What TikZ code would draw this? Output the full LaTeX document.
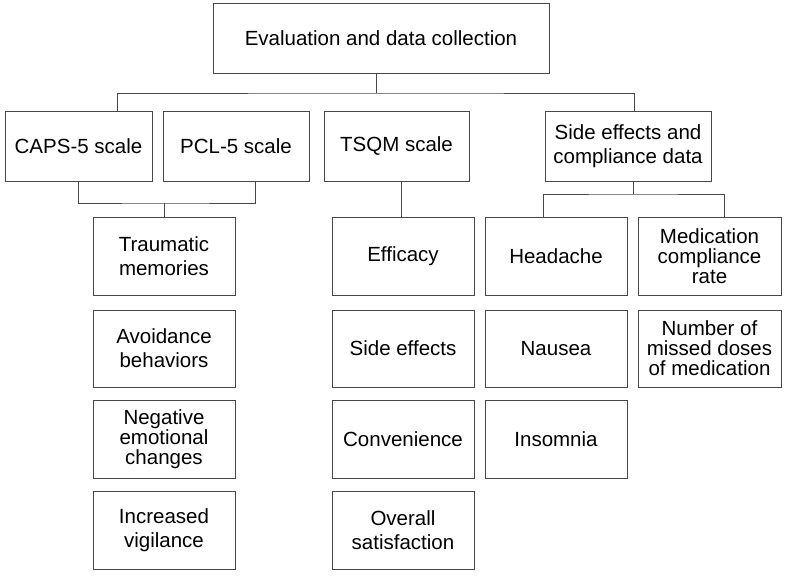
\documentclass[tikz,border=0pt]{standalone}
\usepackage{fontspec}
\setmainfont{Liberation Sans}
\begin{document}
\begin{tikzpicture}[x=1pt,y=-1pt,
  line width=1pt, draw=black!72,
  box/.style={draw=black!72, line width=1pt, rectangle, inner sep=0pt, align=center,
    minimum height=78pt, minimum width=142pt, text=black,
    font=\fontsize{20.5}{24}\selectfont},
  tight/.style={font=\fontsize{20.5}{20}\selectfont},
  lnk/.style={draw=black!72, line width=1pt}]
\useasboundingbox (0,0) rectangle (793,576);
% top
\node[box, minimum width=336pt, minimum height=70pt] (top) at (381,38) {Evaluation and data collection};
% level 2
\node[box, minimum width=147pt, minimum height=70pt] (caps) at (78.5,146) {CAPS-5 scale};
\node[box, minimum width=146pt, minimum height=70pt] (pcl) at (236,146) {PCL-5 scale};
\node[box, minimum width=145pt, minimum height=70pt] (tsqm) at (396.5,146) {TSQM scale};
\node[box, minimum width=166pt, minimum height=70pt] (side) at (628,146) {Side effects and\\compliance data};
% column 1
\node[box] (trau) at (164,256) {Traumatic\\memories};
\node[box, minimum height=77pt] (avoid) at (164,348.5) {Avoidance\\behaviors};
\node[box, tight] (neg) at (164,439) {Negative\\emotional\\changes};
\node[box] (incr) at (164,530) {Increased\\vigilance};
% column 2
\node[box] (eff) at (403,256) {Efficacy};
\node[box, minimum height=77pt] (sidef) at (403,348.5) {Side effects};
\node[box] (conv) at (403,439) {Convenience};
\node[box] (over) at (403,530) {Overall\\satisfaction};
% column 3
\node[box] (head) at (556,256) {Headache};
\node[box, minimum height=77pt] (naus) at (556,348.5) {Nausea};
\node[box] (insom) at (556,439) {Insomnia};
% column 4
\node[box, tight, minimum width=143pt] (med) at (709.5,256) {Medication\\compliance\\rate};
\node[box, tight, minimum width=143pt, minimum height=77pt] (miss) at (709.5,348.5) {Number of\\missed doses\\of medication};
% connectors
\coordinate (hub) at (376,93);
\draw[lnk] (hub) -- (hub |- top.south);
\draw[lnk] ([xshift=38.5pt]caps.north) |- (hub) -| ([xshift=6pt]side.north);
\coordinate (j1) at (164,203);
\draw[lnk] (caps.south) |- (j1) -| ([xshift=19pt]pcl.south);
\draw[lnk] (j1) -- (trau.north);
\draw[lnk] ([xshift=-2pt]eff.north) -- ([xshift=-2pt]eff.north |- tsqm.south);
\coordinate (j3) at (633,194);
\draw[lnk] (j3) -- (j3 |- side.south);
\draw[lnk] ([xshift=-13pt]head.north) |- (j3) -| ([xshift=14.5pt]med.north);
\end{tikzpicture}
\end{document}
